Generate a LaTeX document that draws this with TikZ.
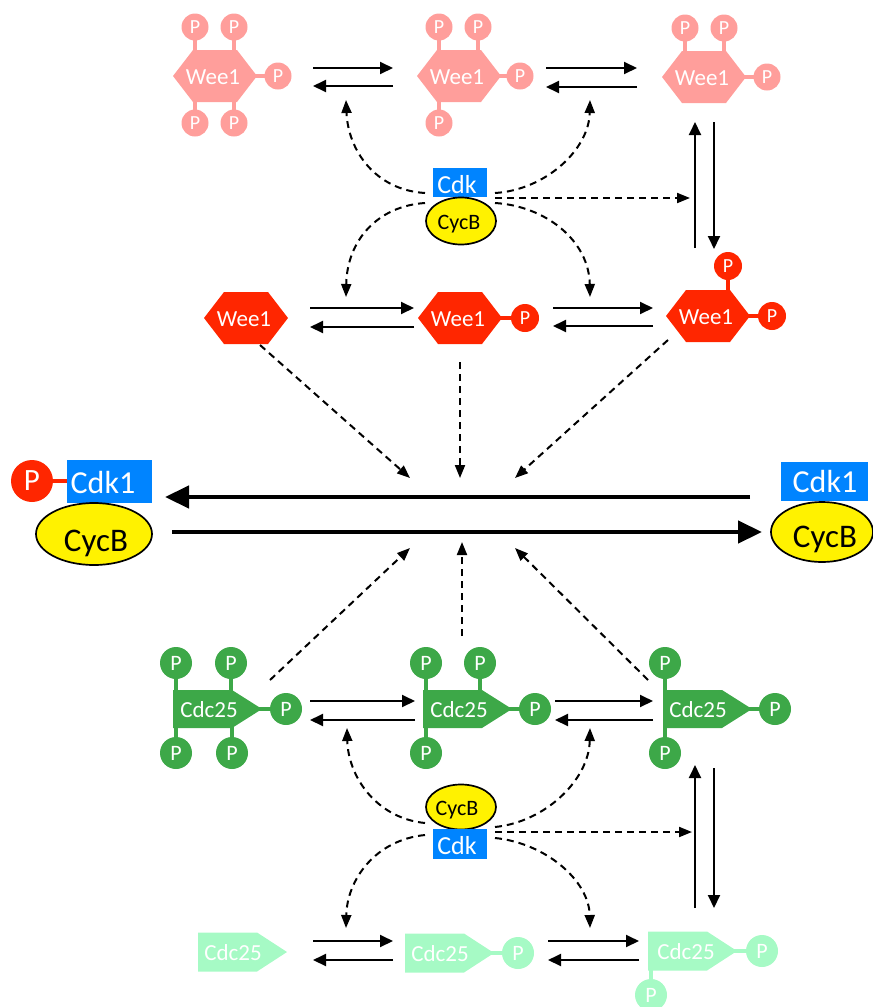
\documentclass[tikz,border=0pt]{standalone}
\usepackage{fontspec}
\setmainfont{Carlito}
\usetikzlibrary{arrows.meta,shapes.geometric}

\definecolor{weeA}{RGB}{255,158,155}
\definecolor{weeB}{RGB}{255,38,0}
\definecolor{cdcA}{RGB}{61,168,72}
\definecolor{cdcB}{RGB}{166,250,197}
\definecolor{cdkblue}{RGB}{0,132,255}
\definecolor{cycyel}{RGB}{255,242,0}

\tikzset{
  every node/.style={inner sep=0pt, text depth=0pt},
  rxn/.style={line width=1.9pt, -{Triangle[length=13pt,width=12pt]}},
  main/.style={line width=4.4pt, -{Triangle[length=24pt,width=22pt]}},
  reg/.style={line width=2pt, dash pattern=on 7pt off 5pt, -{Triangle[length=13pt,width=10pt]}},
  weeAstem/.style={weeA, line width=4pt},
  weeBstem/.style={weeB, line width=4pt},
  cdcAstem/.style={cdcA, line width=4pt},
  cdcBstem/.style={cdcB, line width=4pt},
  weeAball/.style={circle, fill=weeA, text=white, minimum size=27pt, font=\fontsize{20}{20}\selectfont},
  weeBball/.style={circle, fill=weeB, text=white, minimum size=28pt, font=\fontsize{20}{20}\selectfont},
  cdcAball/.style={circle, fill=cdcA, text=white, minimum size=32pt, font=\fontsize{22}{22}\selectfont},
  cdcBball/.style={circle, fill=cdcB, text=white, minimum size=32pt, font=\fontsize{22}{22}\selectfont},
  bigball/.style={circle, fill=weeB, text=white, minimum size=42pt, font=\fontsize{31}{31}\selectfont},
  plbl/.style={text=white, font=\fontsize{23}{23}\selectfont},
  cdkbox/.style={fill=cdkblue, rectangle},
  cycell/.style={ellipse, draw=black, line width=1.7pt, fill=cycyel},
  smallcdk/.style={text=white, font=\fontsize{26}{26}\selectfont},
  smallcyc/.style={text=black, font=\fontsize{22}{22}\selectfont},
  bigcdk/.style={text=white, font=\fontsize{32}{32}\selectfont},
  bigcyc/.style={text=black, font=\fontsize{33}{33}\selectfont},
}

% elongated hexagon (Wee1 body) centred at (#2,#3)
\newcommand\hexbody[3]{\fill[#1,shift={(#2,#3)}] (-42,0) -- (-22,-26) -- (22,-26) -- (42,0) -- (22,26) -- (-22,26) -- cycle;}
% tag-shaped body (Cdc25) with left edge at #2, mid height #3, half height #4
\newcommand\tagbody[4]{\fill[#1,shift={(#2,#3)}] (0,-#4) -- (59,-#4) -- (89,0) -- (59,#4) -- (0,#4) -- cycle;}
% phosphate ball: name, colour, centre x, y, stem start x, y
\newcommand\phos[6]{\draw[#2stem] (#5,#6) -- (#3,#4); \node[#2ball] (#1) at (#3,#4) {P};}
% pair of opposed reaction arrows: prefix, left x, right x, forward y, backward y
\newcommand\revpair[5]{%
  \coordinate (#1f0) at (#2,#4); \coordinate (#1f1) at (#3,#4);
  \coordinate (#1b0) at (#3,#5); \coordinate (#1b1) at (#2,#5);
  \draw[rxn] (#1f0) -- (#1f1); \draw[rxn] (#1b0) -- (#1b1);}

\begin{document}
\begin{tikzpicture}[x=1pt,y=-1pt]
\useasboundingbox (0,0) rectangle (873,1007);

% ---------- Wee1, hyperphosphorylated forms ----------
\hexbody{weeA}{215}{76}
\phos{a1pa}{weeA}{195}{27}{195}{52}
\phos{a1pb}{weeA}{234}{27}{234}{52}
\phos{a1pc}{weeA}{278}{76}{255}{76}
\phos{a1pd}{weeA}{195}{123}{195}{100}
\phos{a1pe}{weeA}{234}{123}{234}{100}
\node[plbl] (a1) at (213,77) {Wee1};

\hexbody{weeA}{459}{76}
\phos{a2pa}{weeA}{439}{27}{439}{52}
\phos{a2pb}{weeA}{478}{27}{478}{52}
\phos{a2pc}{weeA}{520}{76}{499}{76}
\phos{a2pd}{weeA}{439}{123}{439}{100}
\node[plbl] (a2) at (457,77) {Wee1};

\hexbody{weeA}{704}{77}
\phos{a3pa}{weeA}{685}{28}{685}{53}
\phos{a3pb}{weeA}{724}{28}{724}{53}
\phos{a3pc}{weeA}{767}{77}{744}{77}
\node[plbl] (a3) at (702,78) {Wee1};

\revpair{ta}{313}{393}{68}{86}
\revpair{tb}{546}{637}{68}{87}

% ---------- Wee1, active forms ----------
\hexbody{weeB}{246}{318}
\node[plbl] (b1) at (244,319) {Wee1};

\hexbody{weeB}{460}{318}
\phos{b2p}{weeB}{525}{318}{500}{318}
\node[plbl] (b2) at (458,319) {Wee1};

\hexbody{weeB}{708}{316}
\phos{b3pa}{weeB}{728}{266}{728}{292}
\phos{b3pb}{weeB}{772}{316}{748}{316}
\node[plbl] (b3) at (706,317) {Wee1};

\revpair{ma}{310}{414}{308}{327}
\revpair{mb}{553}{653}{308}{326}

% vertical exchange between the two Wee1 rows
\coordinate (va0) at (695,248); \coordinate (va1) at (695,122);
\coordinate (vb0) at (714,122); \coordinate (vb1) at (714,249);
\draw[rxn] (va0) -- (va1);
\draw[rxn] (vb0) -- (vb1);

% ---------- Cdk/CycB acting on Wee1 ----------
\node[cdkbox, minimum width=54pt, minimum height=29pt] (cdkT) at (460,182.5) {};
\node[cycell, minimum width=70pt, minimum height=47pt] (cycT) at (461,221) {};
\node[smallcdk] (cdkTt) at (457,184) {Cdk};
\node[smallcyc] (cycTt) at (459,222) {CycB};

\coordinate (k1) at (425,193); \coordinate (k2) at (425,203);
\coordinate (k3) at (495,193); \coordinate (k4) at (495,198); \coordinate (k5) at (495,203);
\coordinate (u1) at (346,100); \coordinate (u2) at (346,297);
\coordinate (u3) at (590,100); \coordinate (u4) at (690,198); \coordinate (u5) at (590,297);
\draw[reg] (k1) .. controls (375,190) and (348,150) .. (u1);
\draw[reg] (k2) .. controls (378,206) and (347,240) .. (u2);
\draw[reg] (k3) .. controls (545,190) and (589,150) .. (u3);
\draw[reg] (k4) -- (u4);
\draw[reg] (k5) .. controls (545,206) and (589,240) .. (u5);

% ---------- central Cdk1 reaction ----------
\draw[weeB, line width=4pt] (32,481) -- (70,481);
\node[bigball] (pL) at (32,481) {P};
\node[cdkbox, minimum width=85pt, minimum height=43pt] (cdkL) at (109.5,481.5) {};
\node[cycell, minimum width=116pt, minimum height=62pt] (cycL) at (94,534) {};
\node[bigcdk] (cdkLt) at (103,482) {Cdk1};
\node[bigcyc] (cycLt) at (96,541) {CycB};

\node[cdkbox, minimum width=87pt, minimum height=39pt] (cdkR) at (824.5,481.5) {};
\node[cycell, minimum width=102pt, minimum height=60pt] (cycR) at (822,532) {};
\node[bigcdk] (cdkRt) at (825,481) {Cdk1};
\node[bigcyc] (cycRt) at (825,537) {CycB};

\coordinate (mA) at (750,497); \coordinate (mB) at (165,497);
\coordinate (mC) at (172,532); \coordinate (mD) at (762,532);
\draw[main] (mA) -- (mB);
\draw[main] (mC) -- (mD);

\coordinate (r1s) at (260,345); \coordinate (r1e) at (410,478);
\coordinate (r2s) at (460,362); \coordinate (r2e) at (460,478);
\coordinate (r3s) at (668,340); \coordinate (r3e) at (515,478);
\coordinate (s1s) at (270,680); \coordinate (s1e) at (410,548);
\coordinate (s2s) at (462,636); \coordinate (s2e) at (462,542);
\coordinate (s3s) at (648,680); \coordinate (s3e) at (515,548);
\draw[reg] (r1s) -- (r1e);
\draw[reg] (r2s) -- (r2e);
\draw[reg] (r3s) -- (r3e);
\draw[reg] (s1s) -- (s1e);
\draw[reg] (s2s) -- (s2e);
\draw[reg] (s3s) -- (s3e);

% ---------- Cdc25, phosphorylated forms ----------
\tagbody{cdcA}{173}{709}{19}
\phos{c1pa}{cdcA}{176}{663}{176}{692}
\phos{c1pb}{cdcA}{231}{663}{231}{692}
\phos{c1pc}{cdcA}{286}{709}{258}{709}
\phos{c1pd}{cdcA}{176}{753}{176}{726}
\phos{c1pe}{cdcA}{232}{753}{232}{726}
\node[plbl] (c1) at (209,710) {Cdc25};

\tagbody{cdcA}{423}{709}{19}
\phos{c2pa}{cdcA}{426}{663}{426}{692}
\phos{c2pb}{cdcA}{480}{663}{480}{692}
\phos{c2pc}{cdcA}{535}{709}{508}{709}
\phos{c2pd}{cdcA}{426}{753}{426}{726}
\node[plbl] (c2) at (459,710) {Cdc25};

\tagbody{cdcA}{663}{709}{19}
\phos{c3pa}{cdcA}{665}{663}{665}{692}
\phos{c3pc}{cdcA}{775}{709}{748}{709}
\phos{c3pd}{cdcA}{665}{753}{665}{726}
\node[plbl] (c3) at (698,710) {Cdc25};

\revpair{ga}{310}{415}{701}{720}
\revpair{gb}{555}{653}{701}{720}

% ---------- Cdc25, less phosphorylated forms ----------
\tagbody{cdcB}{198}{952}{19.5}
\node[plbl] (d1) at (233,953) {Cdc25};

\tagbody{cdcB}{405}{953}{19.5}
\phos{d2p}{cdcB}{518}{953}{490}{953}
\node[plbl] (d2) at (440,954) {Cdc25};

\tagbody{cdcB}{648}{951}{19.5}
\phos{d3pa}{cdcB}{762}{951}{733}{951}
\phos{d3pb}{cdcB}{651}{995}{651}{968}
\node[plbl] (d3) at (686,952) {Cdc25};

\revpair{la}{313}{393}{941}{960}
\revpair{lb}{548}{639}{941}{960}

\coordinate (wa0) at (695,908); \coordinate (wa1) at (695,765);
\coordinate (wb0) at (714,768); \coordinate (wb1) at (714,908);
\draw[rxn] (wa0) -- (wa1);
\draw[rxn] (wb0) -- (wb1);

% ---------- CycB/Cdk acting on Cdc25 ----------
\node[cycell, minimum width=70pt, minimum height=45pt] (cycB) at (461,807) {};
\node[cdkbox, minimum width=54pt, minimum height=30pt] (cdkB) at (460,844) {};
\node[smallcyc] (cycBt) at (457,808) {CycB};
\node[smallcdk] (cdkBt) at (457,845) {Cdk};

\coordinate (k6) at (425,823); \coordinate (k7) at (425,835);
\coordinate (k8) at (495,827); \coordinate (k9) at (495,832); \coordinate (k10) at (495,838);
\coordinate (u6) at (347,728); \coordinate (u7) at (346,928);
\coordinate (u8) at (590,728); \coordinate (u9) at (692,832); \coordinate (u10) at (590,928);
\draw[reg] (k6) .. controls (375,818) and (348,775) .. (u6);
\draw[reg] (k7) .. controls (375,840) and (347,880) .. (u7);
\draw[reg] (k8) .. controls (545,822) and (589,780) .. (u8);
\draw[reg] (k9) -- (u9);
\draw[reg] (k10) .. controls (545,843) and (589,880) .. (u10);
\end{tikzpicture}
\end{document}
